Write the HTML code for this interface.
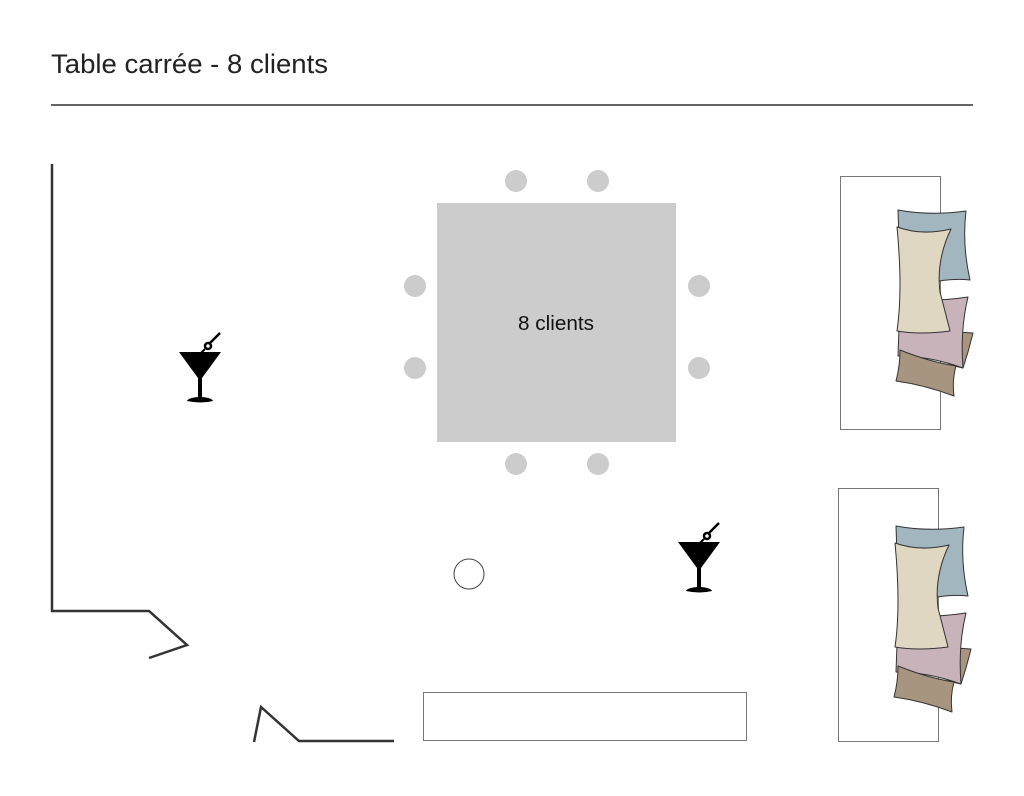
<!DOCTYPE html>
<html><head><meta charset="utf-8"><style>
body{margin:0;background:#fff;width:1024px;height:791px;overflow:hidden;font-family:"Liberation Sans",sans-serif}
</style></head><body>
<svg width="1024" height="791" xmlns="http://www.w3.org/2000/svg">
<defs>
<g id="cush" stroke="#333" stroke-width="1" stroke-linejoin="round">
<path d="M958 332 L973 333 L968 352 L963 368 L950 365 Z" fill="#a89580"/>
<path d="M898 210 Q930 216 966 211 Q962 245 970 280 Q950 278 930 283 L900 270 Z" fill="#a2b6c0"/>
<path d="M900 300 Q935 302 968 297 Q960 330 963 368 Q930 356 898 356 Z" fill="#c9b3ba"/>
<path d="M900 350 Q930 362 956 366 Q952 380 954 396 Q925 385 896 381 Q900 366 900 350 Z" fill="#a89580"/>
<path d="M897 227 Q922 236 951 229 Q936 260 940 292 Q946 315 950 331 Q920 335 897 331 Q903 290 897 227 Z" fill="#e0d7c3"/>
</g>
<g id="mart">
<path d="M0 0 L42 0 L23 26 L23 45 Q33 46 34 49 Q22 52 8 49 Q9 46 19 45 L19 26 Z" fill="#000"/>
<circle cx="29" cy="-6" r="3" fill="none" stroke="#000" stroke-width="2.5"/>
<line x1="31" y1="-9" x2="41" y2="-19" stroke="#000" stroke-width="2.5"/>
<line x1="26" y1="-3" x2="22" y2="1" stroke="#000" stroke-width="2"/>
</g>
</defs>
<text x="51" y="73" font-size="27" fill="#222" textLength="277" lengthAdjust="spacingAndGlyphs">Table carrée - 8 clients</text>
<line x1="51" y1="105" x2="973" y2="105" stroke="#333" stroke-width="1.5"/>
<polyline points="52,164 52,611 149,611 187,645 149,658" fill="none" stroke="#333" stroke-width="2.5"/>
<polyline points="254,742 261,707 299,741 394,741" fill="none" stroke="#333" stroke-width="2.5"/>
<rect x="437" y="203" width="239" height="239" fill="#cccccc"/>
<text x="518" y="330" font-size="20" fill="#111" textLength="76" lengthAdjust="spacingAndGlyphs">8 clients</text>
<g fill="#cccccc">
<circle cx="516" cy="181" r="11"/><circle cx="598" cy="181" r="11"/>
<circle cx="516" cy="464" r="11"/><circle cx="598" cy="464" r="11"/>
<circle cx="415" cy="286" r="11"/><circle cx="415" cy="368" r="11"/>
<circle cx="699" cy="286" r="11"/><circle cx="699" cy="368" r="11"/>
</g>
<circle cx="469" cy="574" r="15" fill="#fff" stroke="#444" stroke-width="1"/>
<rect x="423.5" y="692.5" width="323" height="48" fill="none" stroke="#777" stroke-width="1"/>
<rect x="840.5" y="176.5" width="100" height="253" fill="none" stroke="#777" stroke-width="1"/>
<rect x="838.5" y="488.5" width="100" height="253" fill="none" stroke="#777" stroke-width="1"/>
<use href="#cush"/>
<use href="#cush" transform="translate(-2,316)"/>
<use href="#mart" transform="translate(179,352)"/>
<use href="#mart" transform="translate(678,542)"/>
</svg>
</body></html>
